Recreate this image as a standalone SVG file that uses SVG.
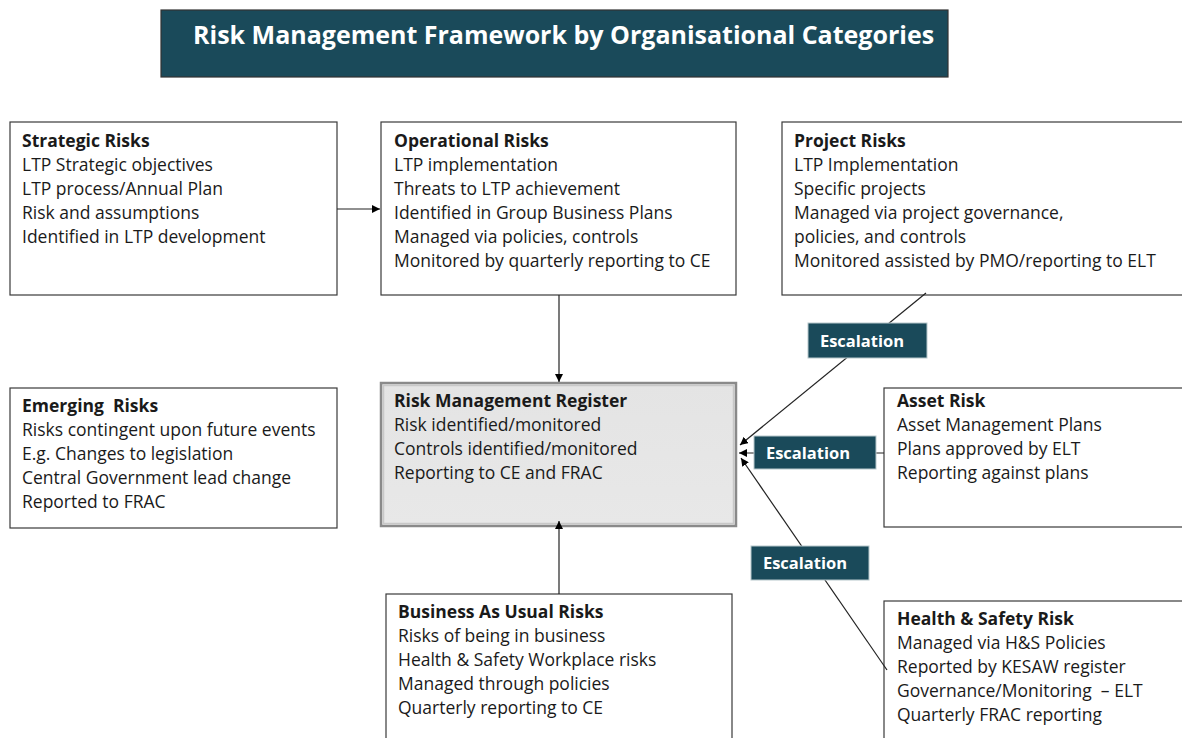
<svg xmlns="http://www.w3.org/2000/svg" width="1182" height="738" viewBox="0 0 1182 738">
<defs>
<style>
.box{fill:#fff;stroke:#3a3a3a;stroke-width:1.2}
.t{font-family:"Open Sans","Liberation Sans",sans-serif;font-size:17.5px;fill:#1a1a1a;white-space:pre}
.b{font-weight:bold}
.lab{fill:#1a4a5a;stroke:#b8c8cc;stroke-width:1}
.lt{font-family:"Open Sans","Liberation Sans",sans-serif;font-size:16.5px;font-weight:bold;fill:#fff}
.c{stroke:#222;stroke-width:1.2;fill:none}
</style>
<marker id="ah" viewBox="0 0 10 10" refX="10" refY="5" markerWidth="8" markerHeight="8" orient="auto" markerUnits="userSpaceOnUse"><path d="M0,0L10,5L0,10z" fill="#000"/></marker>
<linearGradient id="rg" x1="0" y1="0" x2="0" y2="1"><stop offset="0" stop-color="#e4e4e4"/><stop offset="1" stop-color="#e8e8e8"/></linearGradient>
</defs>
<rect width="1182" height="738" fill="#fff"/>
<g id="title">
<rect x="161" y="10" width="787" height="67" fill="#1a4a5a" stroke="#333" stroke-width="1.2"/>
<text x="193" y="44" font-family="Open Sans,Liberation Sans,sans-serif" font-size="25px" font-weight="bold" fill="#fff">Risk Management Framework by Organisational Categories</text>
</g>
<g id="strategic">
<rect class="box" x="10" y="122" width="327" height="173"/>
<text class="t"><tspan class="b" x="22" y="147">Strategic Risks</tspan><tspan x="22" y="171">LTP Strategic objectives</tspan><tspan x="22" y="195">LTP process/Annual Plan</tspan><tspan x="22" y="219">Risk and assumptions</tspan><tspan x="22" y="243">Identified in LTP development</tspan></text>
</g>
<g id="operational">
<rect class="box" x="381" y="122" width="355" height="173"/>
<text class="t"><tspan class="b" x="394" y="147">Operational Risks</tspan><tspan x="394" y="171">LTP implementation</tspan><tspan x="394" y="195">Threats to LTP achievement</tspan><tspan x="394" y="219">Identified in Group Business Plans</tspan><tspan x="394" y="243">Managed via policies, controls</tspan><tspan x="394" y="267">Monitored by quarterly reporting to CE</tspan></text>
</g>
<g id="project">
<rect class="box" x="782" y="122" width="420" height="173"/>
<text class="t"><tspan class="b" x="794" y="147">Project Risks</tspan><tspan x="794" y="171">LTP Implementation</tspan><tspan x="794" y="195">Specific projects</tspan><tspan x="794" y="219">Managed via project governance,</tspan><tspan x="794" y="243">policies, and controls</tspan><tspan x="794" y="267">Monitored assisted by PMO/reporting to ELT</tspan></text>
</g>
<g id="emerging">
<rect class="box" x="10" y="388" width="327" height="140"/>
<text class="t"><tspan class="b" x="22" y="412">Emerging  Risks</tspan><tspan x="22" y="436">Risks contingent upon future events</tspan><tspan x="22" y="460">E.g. Changes to legislation</tspan><tspan x="22" y="484">Central Government lead change</tspan><tspan x="22" y="508">Reported to FRAC</tspan></text>
</g>
<g id="register">
<rect x="381" y="383" width="355" height="143" fill="url(#rg)" stroke="#8a8a8a" stroke-width="2.5"/>
<rect x="383.5" y="385.5" width="350" height="138" fill="none" stroke="#c8c8c8" stroke-width="1.5"/>
<text class="t"><tspan class="b" x="394" y="407">Risk Management Register</tspan><tspan x="394" y="431">Risk identified/monitored</tspan><tspan x="394" y="455">Controls identified/monitored</tspan><tspan x="394" y="479">Reporting to CE and FRAC</tspan></text>
</g>
<g id="asset">
<rect class="box" x="884" y="388" width="320" height="139"/>
<text class="t"><tspan class="b" x="897" y="407">Asset Risk</tspan><tspan x="897" y="431">Asset Management Plans</tspan><tspan x="897" y="455">Plans approved by ELT</tspan><tspan x="897" y="479">Reporting against plans</tspan></text>
</g>
<g id="bau">
<rect class="box" x="386" y="594" width="346" height="160"/>
<text class="t"><tspan class="b" x="398" y="618">Business As Usual Risks</tspan><tspan x="398" y="642">Risks of being in business</tspan><tspan x="398" y="666">Health &amp; Safety Workplace risks</tspan><tspan x="398" y="690">Managed through policies</tspan><tspan x="398" y="714">Quarterly reporting to CE</tspan></text>
</g>
<g id="hs">
<rect class="box" x="884" y="601" width="320" height="160"/>
<text class="t"><tspan class="b" x="897" y="625">Health &amp; Safety Risk</tspan><tspan x="897" y="649">Managed via H&amp;S Policies</tspan><tspan x="897" y="673">Reported by KESAW register</tspan><tspan x="897" y="697">Governance/Monitoring  – ELT</tspan><tspan x="897" y="721">Quarterly FRAC reporting</tspan></text>
</g>
<g id="connectors">
<line class="c" x1="337" y1="209" x2="380" y2="209" marker-end="url(#ah)"/>
<line class="c" x1="559" y1="295" x2="559" y2="382" marker-end="url(#ah)"/>
<line class="c" x1="559" y1="594" x2="559" y2="521" marker-end="url(#ah)"/>
<line class="c" x1="926" y1="293" x2="740" y2="445" marker-end="url(#ah)"/>
<line class="c" x1="884" y1="453" x2="739" y2="453" marker-end="url(#ah)"/>
<line class="c" x1="887" y1="670" x2="741" y2="458" marker-end="url(#ah)"/>
<rect class="lab" x="808" y="323" width="119" height="35"/>
<text class="lt" x="862" y="347" text-anchor="middle">Escalation</text>
<rect class="lab" x="754" y="436" width="122" height="33"/>
<text class="lt" x="808" y="459" text-anchor="middle">Escalation</text>
<rect class="lab" x="751" y="546" width="118" height="34"/>
<text class="lt" x="805" y="569" text-anchor="middle">Escalation</text>
</g>
</svg>
